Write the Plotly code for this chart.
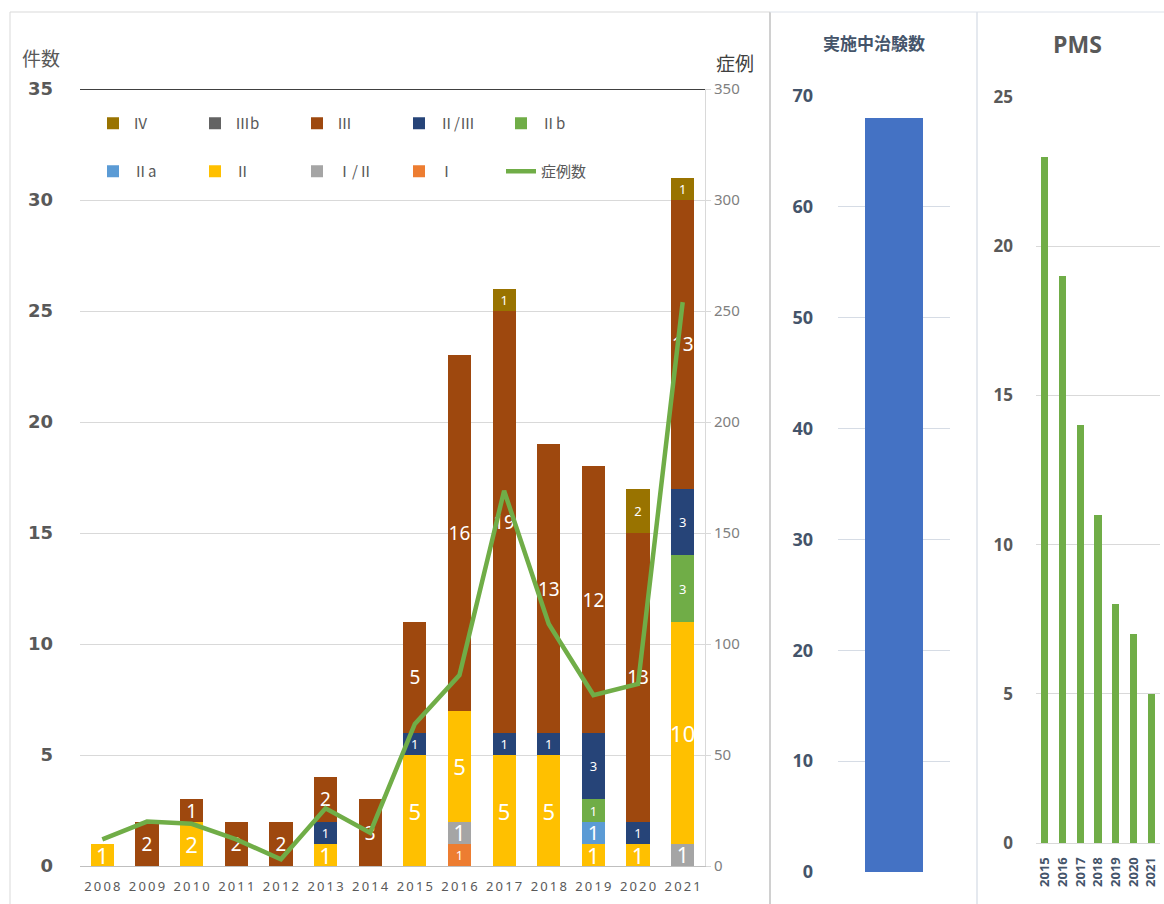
import plotly.graph_objects as go

W, H = 1164, 904

years = ["2008", "2009", "2010", "2011", "2012", "2013", "2014",
         "2015", "2016", "2017", "2018", "2019", "2020", "2021"]

# stacked phase counts (None = no segment)
phase_I     = [None, None, None, None, None, None, None, None, 1, None, None, None, None, None]
phase_I_II  = [None, None, None, None, None, None, None, None, 1, None, None, None, None, 1]
phase_II    = [1, None, 2, None, None, 1, None, 5, 5, 5, 5, 1, 1, 10]
phase_IIa   = [None, None, None, None, None, None, None, None, None, None, None, 1, None, None]
phase_IIb   = [None, None, None, None, None, None, None, None, None, None, None, 1, None, 3]
phase_II_III = [None, None, None, None, None, 1, None, 1, None, 1, 1, 3, 1, 3]
phase_III   = [None, 2, 1, 2, 2, 2, 3, 5, 16, 19, 13, 12, 13, 13]
phase_IIIb  = [None] * 14
phase_IV    = [None, None, None, None, None, None, None, None, None, 1, None, None, 2, 1]

cases = [12, 20, 19, 12, 3, 26, 15, 64, 86, 169, 109, 77, 82, 254]

ongoing_cat = ["実施中治験数"]
ongoing_val = [68]

pms_years = ["2015", "2016", "2017", "2018", "2019", "2020", "2021"]
pms_vals = [23, 19, 14, 11, 8, 7, 5]

series = [
    # name, values, color, label size, legend, rank
    ("Ⅰ", phase_I, "#ED7D31", 13, "legend2", 4),
    ("Ⅰ/Ⅱ", phase_I_II, "#A5A5A5", 21, "legend2", 3),
    ("Ⅱ", phase_II, "#FFC000", 22, "legend2", 2),
    ("Ⅱa", phase_IIa, "#5B9BD5", 20, "legend2", 1),
    ("Ⅱb", phase_IIb, "#70AD47", 13, "legend", 5),
    ("Ⅱ/Ⅲ", phase_II_III, "#264478", 13, "legend", 4),
    ("Ⅲ", phase_III, "#9E480E", 19, "legend", 3),
    ("Ⅲb", phase_IIIb, "#636363", 13, "legend", 2),
    ("Ⅳ", phase_IV, "#997300", 13, "legend", 1),
]

def px(x):
    return x / W

def py(y):
    return 1 - y / H

fig = go.Figure()

for name, vals, color, fs, lg, rank in series:
    fig.add_trace(go.Bar(
        x=years, y=vals, name=name,
        marker=dict(color=color, line=dict(width=0)),
        text=[("" if v is None else str(v)) for v in vals],
        textposition="inside", insidetextanchor="middle", textangle=0,
        constraintext="none",
        textfont=dict(color="white", size=fs, family="Noto Sans"),
        legend=lg, legendrank=rank, xaxis="x", yaxis="y",
        hoverinfo="skip",
    ))

fig.add_trace(go.Scatter(
    x=years, y=cases, name="症例数", mode="lines",
    line=dict(color="#70AD47", width=4.5),
    xaxis="x", yaxis="y2", legend="legend2", legendrank=5,
    hoverinfo="skip",
))

fig.add_trace(go.Bar(
    x=ongoing_cat, y=ongoing_val, marker=dict(color="#4472C4"), width=0.51,
    xaxis="x3", yaxis="y3", showlegend=False, hoverinfo="skip",
))

fig.add_trace(go.Bar(
    x=pms_years, y=pms_vals, marker=dict(color="#70AD47"), width=0.4,
    xaxis="x4", yaxis="y4", showlegend=False, hoverinfo="skip",
))

leg_font = dict(family="Noto Sans CJK JP", size=15, color="#595959")

year_ticktext = ["\u2009".join(list(y)) for y in years]

fig.update_layout(
    template="none",
    width=W, height=H,
    margin=dict(l=0, r=0, t=0, b=0, pad=0, autoexpand=False),
    paper_bgcolor="white", plot_bgcolor="white",
    barmode="stack", bargap=0.48,
    showlegend=True,
    font=dict(family="Noto Sans CJK JP", color="#595959"),
    xaxis=dict(domain=[px(80), px(705)], type="category",
               tickmode="array", tickvals=years, ticktext=year_ticktext,
               tickfont=dict(family="Noto Sans", size=13, color="#595959"),
               showline=True, linecolor="#BFBFBF", linewidth=1,
               showgrid=False, ticks="", ticklabelstandoff=8,
               anchor="y", automargin=False),
    yaxis=dict(domain=[py(866), py(89)], range=[0, 35], dtick=5,
               showgrid=True, gridcolor="#D9D9D9", gridwidth=1,
               zeroline=False, showline=False, ticks="",
               tickfont=dict(family="DejaVu Sans", size=18, color="#595959", weight="bold"),
               ticklabelstandoff=26, anchor="x", automargin=False),
    yaxis2=dict(overlaying="y", side="right", range=[0, 350], dtick=50,
                showgrid=False, zeroline=False,
                showline=True, linecolor="#D9D9D9", linewidth=1,
                ticks="outside", ticklen=5, tickcolor="#D9D9D9",
                tickfont=dict(family="Noto Sans", size=15, color="#808080"),
                anchor="x", automargin=False),
    xaxis3=dict(domain=[px(838), px(950)], type="category",
                showticklabels=False, showline=False, showgrid=False,
                ticks="", anchor="y3", automargin=False),
    yaxis3=dict(domain=[py(872), py(96)], range=[0, 70], dtick=10,
                showgrid=True, gridcolor="#D6DCE5", zeroline=False,
                ticks="", showline=False,
                tickfont=dict(family="Open Sans", size=18, color="#44546A", weight="bold"),
                ticklabelstandoff=24, anchor="x3", automargin=False),
    xaxis4=dict(domain=[px(1036), px(1160)], type="category",
                tickangle=-90, ticks="", showgrid=False,
                showline=True, linecolor="#D9D9D9",
                tickfont=dict(family="Open Sans", size=13, color="#44546A", weight="bold"),
                ticklabelstandoff=8,
                anchor="y4", automargin=False),
    yaxis4=dict(domain=[py(843), py(97)], range=[0, 25], dtick=5,
                showgrid=True, gridcolor="#D9D9D9", zeroline=False,
                ticks="", showline=False,
                tickfont=dict(family="Open Sans", size=17, color="#595959", weight="bold"),
                ticklabelstandoff=22, anchor="x4", automargin=False),
    legend=dict(orientation="h", x=px(93), y=py(107), xanchor="left", yanchor="top",
                entrywidth=57, entrywidthmode="pixels", traceorder="normal",
                font=leg_font, bgcolor="rgba(0,0,0,0)"),
    legend2=dict(orientation="h", x=px(93), y=py(155), xanchor="left", yanchor="top",
                 entrywidth=57, entrywidthmode="pixels", traceorder="normal",
                 font=leg_font, bgcolor="rgba(0,0,0,0)"),
)

shapes = [
    # top black line at 35
    dict(type="line", xref="x domain", yref="y", x0=0, x1=1, y0=35, y1=35,
         line=dict(color="#000000", width=1.5)),
    # panel borders
    dict(type="rect", xref="paper", yref="paper", x0=px(10), x1=px(770), y0=-0.05, y1=py(12),
         line=dict(color="#D9D9D9", width=1)),
    dict(type="line", xref="paper", yref="paper", x0=px(770), x1=px(770), y0=-0.05, y1=py(12),
         line=dict(color="#D0D0D0", width=2)),
    dict(type="line", xref="paper", yref="paper", x0=px(770), x1=px(1170), y0=py(12), y1=py(12),
         line=dict(color="#DDE2EA", width=1)),
    dict(type="line", xref="paper", yref="paper", x0=px(977), x1=px(977), y0=-0.05, y1=py(12),
         line=dict(color="#DDE2EA", width=1.5)),
]
fig.update_layout(shapes=shapes)

def ann(text, x, y, font):
    return dict(text=text, x=px(x), y=py(y), xref="paper", yref="paper",
                xanchor="center", yanchor="middle", showarrow=False, font=font)

annotations = [
    ann("件数", 41, 57, dict(size=19, color="#595959")),
    ann("症例", 735, 62, dict(size=19, color="#404040")),
    ann("実施中治験数", 874, 42, dict(size=17, color="#44546A", weight="bold")),
    ann("PMS", 1077, 44, dict(family="Open Sans", size=23, color="#595959", weight="bold")),
]
fig.update_layout(annotations=annotations)

fig.write_html("out.html")
